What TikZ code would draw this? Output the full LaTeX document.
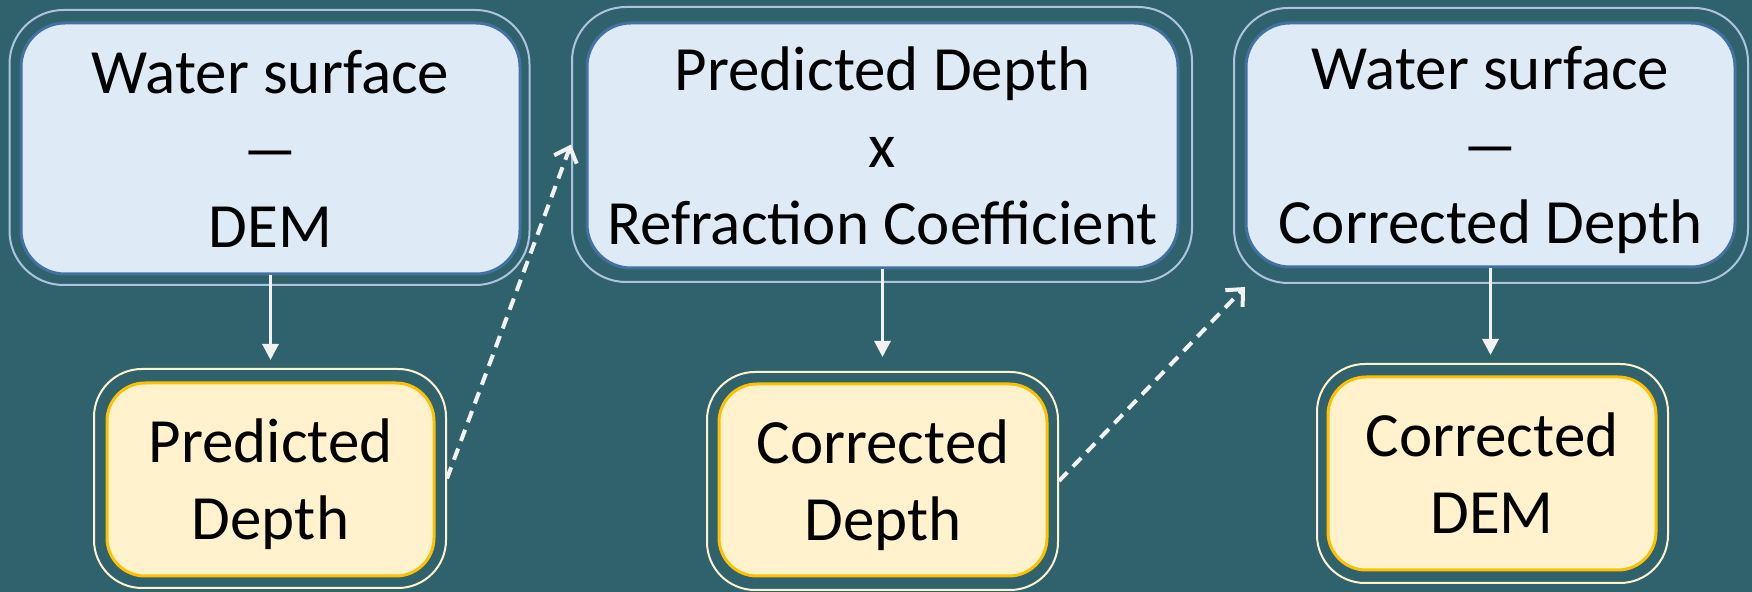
\documentclass[tikz,border=0pt]{standalone}
\usepackage{fontspec}
\usepackage{graphicx}
\setmainfont{Carlito}
\usetikzlibrary{arrows.meta}
\definecolor{bgc}{RGB}{47,98,108}
\definecolor{topfill}{RGB}{222,235,247}
\definecolor{topline}{RGB}{68,114,160}
\definecolor{topframe}{RGB}{175,195,225}
\definecolor{botfill}{RGB}{255,242,204}
\definecolor{botline}{RGB}{255,192,0}
\definecolor{botframe}{RGB}{255,242,204}
\definecolor{arrowc}{RGB}{242,242,242}
\newcommand{\widedash}{\scalebox{1.9}[1]{–}}
\tikzset{
  txt/.style={font=\fontsize{31.5pt}{38.5pt}\selectfont, align=center, inner sep=0pt, text=black},
  topbox/.style={txt, draw=topline, fill=topfill, line width=1.5pt, rounded corners=22pt},
  topouter/.style={draw=topframe, line width=1pt, rounded corners=27pt, inner sep=0pt},
  botbox/.style={txt, draw=botline, fill=botfill, line width=1.5pt, rounded corners=19pt},
  botouter/.style={draw=botframe, line width=1pt, rounded corners=24pt, inner sep=0pt},
  solidarrow/.style={draw=arrowc, line width=1.5pt, -{Triangle[length=8pt,width=8pt]}},
  dasharrow/.style={draw=arrowc, line width=2pt, dash pattern=on 6pt off 4pt, -{Straight Barb[length=6.5pt,width=12pt]}}
}
\begin{document}
\begin{tikzpicture}[x=0.5pt,y=-0.5pt]
\fill[bgc] (0,0) rectangle (1752,592);
\useasboundingbox (0,0) rectangle (1752,592);
% outer frames
\node[topouter, minimum width=260pt, minimum height=137.5pt] (Ao) at (269.5,147.5) {};
\node[topouter, minimum width=310pt, minimum height=137.5pt] (Bo) at (882,144.5) {};
\node[topouter, minimum width=257pt, minimum height=137.5pt] (Co) at (1491,145.5) {};
\node[botouter, minimum width=176pt, minimum height=109.5pt] (Do) at (270,478.5) {};
\node[botouter, minimum width=175.5pt, minimum height=109pt] (Eo) at (882.5,481) {};
\node[botouter, minimum width=175.5pt, minimum height=109.5pt] (Fo) at (1492.5,473.5) {};
% inner boxes
\node[topbox, minimum width=249.5pt, minimum height=125.5pt] (Ai) at (270.5,148.5) {Water surface\\\widedash\\DEM};
\node[topbox, minimum width=295.5pt, minimum height=122.5pt] (Bi) at (882.5,145.5) {Predicted Depth\\x\\Refraction Coefficient};
\node[topbox, minimum width=244.5pt, minimum height=122pt] (Ci) at (1490.5,145) {Water surface\\\widedash\\Corrected De\smash{p}th};
\node[botbox, minimum width=163.5pt, minimum height=96.5pt] (Di) at (270.5,479.5) {Predicted\\De\smash{p}th};
\node[botbox, minimum width=164pt, minimum height=96pt] (Ei) at (883,480) {Corrected\\De\smash{p}th};
\node[botbox, minimum width=164pt, minimum height=96.5pt] (Fi) at (1492,473.5) {Corrected\\DEM};
% vertical arrows
\draw[solidarrow, shorten >=4pt] (Ai.south) -- (Ai.south |- Do.north);
\draw[solidarrow, shorten >=7pt] (Bi.south) -- (Bi.south |- Eo.north);
\draw[solidarrow, shorten >=4pt] (Ci.south) -- (Ci.south |- Fo.north);
% dashed arrows
\coordinate (Cend) at (1245,287);
\draw[dasharrow] (Do.east) -- (Bo.west);
\draw[dasharrow] (Eo.east) -- (Cend);
\end{tikzpicture}
\end{document}
